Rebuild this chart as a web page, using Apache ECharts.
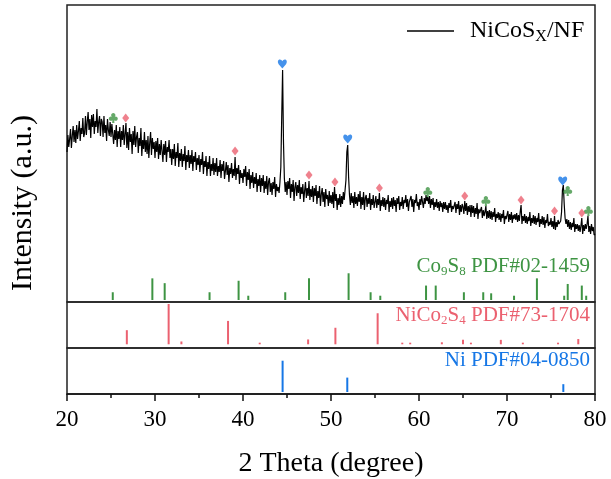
<!DOCTYPE html>
<html><head><meta charset="utf-8">
<script src="https://cdn.jsdelivr.net/npm/echarts@6/dist/echarts.min.js"></script>
<style>html,body{margin:0;padding:0;background:#fff}#c{width:611px;height:479px}</style>
</head><body><div id="c"></div>
<script>
const FONT = "'Liberation Serif','Times New Roman',serif";

// Measured XRD pattern (NiCoSx/NF), 2θ from 20 to 80 in steps of 0.1
const thetaStart = 20, thetaStep = 0.1;
const intensity = [
150,167,155,163,173,154,166,176,160,172,
159,177,163,171,181,161,174,168,184,165,
169,186,167,180,190,172,183,164,187,175,
188,168,181,175,193,169,180,186,166,183,
180,165,186,169,177,161,183,172,166,180,
165,178,179,158,172,162,177,155,171,163,
175,155,171,162,177,157,168,179,154,170,
152,174,160,168,148,171,157,176,155,165,
170,149,164,156,174,146,162,153,170,150,
162,148,166,144,159,170,147,164,153,160,
144,161,150,164,143,158,147,162,151,140,
158,147,161,140,155,150,162,144,153,137,
153,143,158,136,150,144,159,135,149,141,
153,135,148,141,156,132,147,140,152,134,
147,138,152,131,146,140,150,132,144,137,
147,130,143,137,150,128,141,135,146,126,
140,133,146,126,138,131,144,127,139,130,
144,126,136,130,142,124,138,131,141,123,
131,140,127,137,120,134,128,139,124,133,
126,145,122,134,128,137,118,132,124,129,
119,133,125,136,116,130,122,133,113,127,
119,130,114,125,118,129,110,123,116,127,
110,124,116,127,109,121,113,126,107,120,
124,110,119,107,120,113,125,105,118,111,
115,109,120,135,185,232,160,124,110,120,
107,121,113,124,104,118,110,122,101,115,
120,106,117,109,122,103,115,108,118,100,
111,120,104,114,106,121,102,113,105,116,
100,114,106,117,98,111,104,116,96,108,
114,100,110,95,113,103,107,96,111,99,
107,98,110,94,115,101,108,92,104,97,
108,95,106,98,110,102,112,122,150,157,
125,107,97,109,99,106,94,110,98,105,
96,108,100,111,93,105,97,110,92,104,
107,95,104,98,109,92,103,97,107,94,
100,106,94,103,97,109,91,102,96,105,
95,104,92,102,98,107,90,101,95,104,
93,105,96,102,90,104,98,106,92,100,
96,105,93,102,99,107,95,103,91,100,
98,106,95,103,90,102,99,108,96,100,
92,103,97,106,100,94,104,98,107,101,
105,98,106,94,103,97,104,92,100,95,
103,94,100,91,101,95,99,90,100,93,
100,92,97,89,99,94,102,90,96,93,
92,100,89,98,93,101,87,97,90,98,
95,88,101,91,99,87,96,90,97,85,
97,89,96,85,94,88,99,83,93,89,
87,95,84,92,86,90,96,83,91,84,
92,83,91,82,90,85,94,80,88,84,
90,82,89,80,88,84,92,78,86,83,
83,91,80,88,82,90,79,87,83,88,
82,89,80,87,81,90,97,78,86,81,
88,79,86,78,85,81,90,76,84,79,
87,78,86,77,84,80,89,75,83,78,
86,77,85,74,82,79,88,76,80,77,
84,75,81,73,86,72,80,75,82,78,
76,81,90,112,117,98,84,78,83,75,
82,73,80,72,79,75,84,70,78,73,
78,71,77,70,76,84,68,77,71,78,
73,78,86,70,76,68,78,71,75,67,
68
];

// Reference patterns (position in 2θ, relative intensity)
const co9s8Pos = [25.2,29.7,31.1,36.2,39.5,40.6,44.8,47.5,52.0,54.5,55.6,60.8,61.9,65.1,67.3,68.2,70.8,73.4,76.5,76.9,78.5,79.0];
const co9s8Int = [29,81,63,29,72,16,29,81,100,29,16,54,54,29,29,25,16,81,16,60,54,16];
const nico2s4Pos = [26.8,31.55,33.0,38.3,41.9,47.4,50.5,55.3,58.1,59.0,62.6,65.0,65.9,69.3,71.8,75.8,78.1];
const nico2s4Int = [35,100,7,58,4,12,41,77,4,4,5,11,4,11,4,4,13];
const niPos = [44.5,51.85,76.4];
const niInt = [100,46,25];

// Phase markers above the pattern (2θ, height)
const clubX = [25.26,61.0,67.6,76.9,79.25];
const clubY = [184,110,101,111,91];
const diamondX = [26.67,39.1,47.5,50.45,55.5,65.2,71.6,75.4,78.5];
const diamondY = [184,151,127,120,114,106,102,91,89];
const heartX = [44.47,51.9,76.33];
const heartY = [238,163,121];

const xTickMin = 20, xTickMax = 80, xTickStep = 10;

const GREEN = '#3e9443', RED = '#eb6170', BLUE = '#1677e6';
const HEART = 'path://M12 21.5 L3.2 12.6 C0.2 9.6 0.6 4.2 4.6 3.1 C7.6 2.3 10.4 3.9 12 6.6 C13.6 3.9 16.4 2.3 19.4 3.1 C23.4 4.2 23.8 9.6 20.8 12.6 Z';
const CLUB = 'path://M7.5 6.5 C7.5 4.015 9.515 2 12 2 C14.485 2 16.5 4.015 16.5 6.5 C16.5 8.985 14.485 11 12 11 C9.515 11 7.5 8.985 7.5 6.5 Z ' +
  'M2.5 14 C2.5 11.515 4.515 9.5 7 9.5 C9.485 9.5 11.5 11.515 11.5 14 C11.5 16.485 9.485 18.5 7 18.5 C4.515 18.5 2.5 16.485 2.5 14 Z ' +
  'M12.5 14 C12.5 11.515 14.515 9.5 17 9.5 C19.485 9.5 21.5 11.515 21.5 14 C21.5 16.485 19.485 18.5 17 18.5 C14.515 18.5 12.5 16.485 12.5 14 Z ' +
  'M9 8 L15 8 L16 15 L8 15 Z M11 11 L13 11 L14.5 23 L9.5 23 Z';

const spec = intensity.map((v, i) => [+(thetaStart + i * thetaStep).toFixed(2), v]);
const pairs = (a, b) => a.map((x, i) => [x, b[i]]);

function stickRender(params, api) {
  const x = api.value(0), v = api.value(1);
  const a = api.coord([x, 0]), b = api.coord([x, v]);
  return { type: 'rect', shape: { x: a[0] - 1, y: b[1], width: 2, height: a[1] - b[1] },
           style: { fill: api.visual('color') } };
}

const chart = echarts.init(document.getElementById('c'));
const gridBase = { left: 67, right: 16, show: true, borderColor: '#222', borderWidth: 1.5, backgroundColor: 'transparent' };
const hiddenX = (g) => ({ gridIndex: g, type: 'value', min: xTickMin, max: xTickMax, show: false });

chart.setOption({
  animation: false,
  backgroundColor: '#fff',
  grid: [
    Object.assign({ top: 5, height: 297 }, gridBase),
    Object.assign({ top: 302, height: 46 }, gridBase),
    Object.assign({ top: 348, height: 46 }, gridBase)
  ],
  xAxis: [
    hiddenX(0), hiddenX(1),
    { gridIndex: 2, type: 'value', min: xTickMin, max: xTickMax, interval: xTickStep,
      axisLine: { onZero: false, lineStyle: { color: '#111', width: 1.5 } },
      axisTick: { inside: false, length: 7, lineStyle: { color: '#111', width: 1.5 } },
      minorTick: { show: true, splitNumber: 2, length: 4, lineStyle: { color: '#111', width: 1.5 } },
      splitLine: { show: false },
      axisLabel: { fontFamily: FONT, fontSize: 23, color: '#000', margin: 14 },
      name: '2 Theta (degree)', nameLocation: 'middle', nameGap: 56,
      nameTextStyle: { fontFamily: FONT, fontSize: 28, color: '#000' } }
  ],
  yAxis: [
    { gridIndex: 0, type: 'value', min: 0, max: 297, show: false },
    { gridIndex: 0, type: 'value', min: -7.5, max: 1104, show: false },
    { gridIndex: 1, type: 'value', min: -9.2, max: 104.9, show: false },
    { gridIndex: 2, type: 'value', min: -6.4, max: 140.6, show: false }
  ],
  legend: {
    data: [{ name: 'NiCoSX/NF', icon: 'rect' }], left: 407, top: 19, padding: 0,
    itemWidth: 47, itemHeight: 1.5,
    formatter: () => '{a0|NiCoS}{s|X}{a|/NF}',
    itemStyle: { color: '#000' },
    textStyle: { fontFamily: FONT, fontSize: 24, color: '#000',
      rich: {
        a0: { fontFamily: FONT, fontSize: 24, color: '#000', lineHeight: 28, padding: [0, 0, 0, 11] },
        a: { fontFamily: FONT, fontSize: 24, color: '#000', lineHeight: 28 },
        s: { fontFamily: FONT, fontSize: 16, color: '#000', lineHeight: 14, verticalAlign: 'bottom' }
      } }
  },
  series: [
    { type: 'line', name: 'NiCoSX/NF', xAxisIndex: 0, yAxisIndex: 0, data: spec,
      symbol: 'none', lineStyle: { color: '#000', width: 1.2 }, itemStyle: { color: '#000' }, z: 2 },
    { type: 'custom', xAxisIndex: 0, yAxisIndex: 1, data: pairs(co9s8Pos, co9s8Int),
      renderItem: stickRender, itemStyle: { color: GREEN }, encode: { x: 0, y: 1 } },
    { type: 'custom', xAxisIndex: 1, yAxisIndex: 2, data: pairs(nico2s4Pos, nico2s4Int),
      renderItem: stickRender, itemStyle: { color: RED }, encode: { x: 0, y: 1 } },
    { type: 'custom', xAxisIndex: 2, yAxisIndex: 3, data: pairs(niPos, niInt),
      renderItem: stickRender, itemStyle: { color: BLUE }, encode: { x: 0, y: 1 } },
    { type: 'scatter', xAxisIndex: 0, yAxisIndex: 0, data: pairs(clubX, clubY),
      symbol: CLUB, symbolSize: [9, 10], itemStyle: { color: GREEN }, z: 5 },
    { type: 'scatter', xAxisIndex: 0, yAxisIndex: 0, data: pairs(diamondX, diamondY),
      symbol: 'diamond', symbolSize: [7, 9], itemStyle: { color: RED }, z: 5 },
    { type: 'scatter', xAxisIndex: 0, yAxisIndex: 0, data: pairs(heartX, heartY),
      symbol: HEART, symbolSize: [9, 9], itemStyle: { color: BLUE }, z: 5 }
  ],
  graphic: [
    { type: 'text', x: 23, y: 203, rotation: Math.PI / 2, z: 100,
      style: { text: 'Intensity (a.u.)', fontFamily: FONT, fontSize: 30, fill: '#000', align: 'center', verticalAlign: 'middle' } },
    { type: 'text', x: 590, y: 266, z: 100,
      style: { text: '{a|Co}{s|9}{a|S}{s|8}{a| PDF#02-1459}', align: 'right', verticalAlign: 'middle',
        rich: { a: { fontFamily: FONT, fontSize: 21, fill: GREEN, lineHeight: 24 },
                s: { fontFamily: FONT, fontSize: 13, fill: GREEN, lineHeight: 12, verticalAlign: 'bottom' } } } },
    { type: 'text', x: 590, y: 315, z: 100,
      style: { text: '{a|NiCo}{s|2}{a|S}{s|4}{a| PDF#73-1704}', align: 'right', verticalAlign: 'middle',
        rich: { a: { fontFamily: FONT, fontSize: 21, fill: RED, lineHeight: 24 },
                s: { fontFamily: FONT, fontSize: 13, fill: RED, lineHeight: 12, verticalAlign: 'bottom' } } } },
    { type: 'text', x: 590, y: 360, z: 100,
      style: { text: 'Ni PDF#04-0850', align: 'right', verticalAlign: 'middle',
        fontFamily: FONT, fontSize: 21, fill: BLUE } }
  ]
});
</script></body></html>
